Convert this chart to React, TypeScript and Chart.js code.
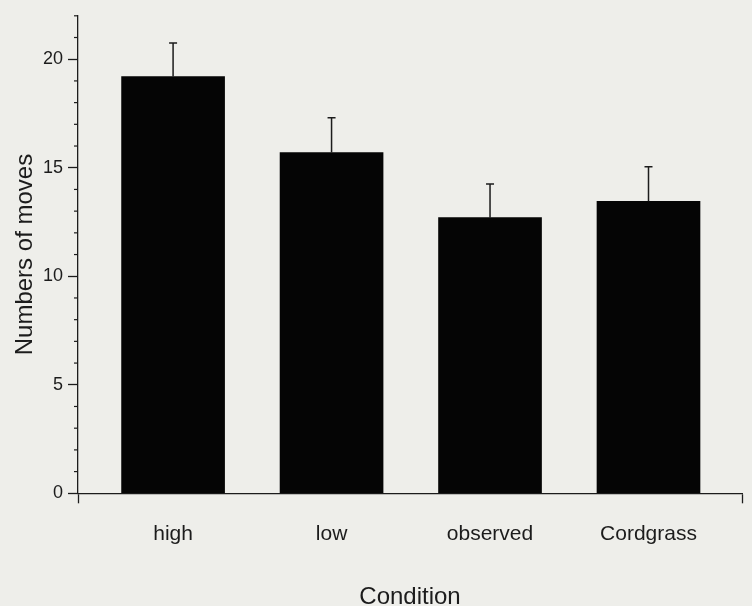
import React, { useEffect, useRef } from "react";
import { Chart, registerables } from "chart.js";

Chart.register(...registerables);

const categories = ["high", "low", "observed", "Cordgrass"];
const meanMoves = [19.2, 15.7, 12.7, 13.45];
const errorMoves = [1.55, 1.6, 1.55, 1.6];
const yMajorTicks = [0, 5, 10, 15, 20];

const INK = "#1c1c1c";
const FONT = "'Liberation Sans', Arial, Helvetica, sans-serif";

const bgPlugin = {
  id: "bg",
  beforeDraw(chart: any) {
    const { ctx, width, height } = chart;
    ctx.save();
    ctx.fillStyle = "#eeeeea";
    ctx.fillRect(0, 0, width, height);
    ctx.restore();
  },
};

const minorTickPlugin = {
  id: "minorTicks",
  afterDraw(chart: any) {
    const y = chart.scales.y;
    const left = chart.chartArea.left;
    const { ctx } = chart;
    ctx.save();
    ctx.strokeStyle = INK;
    ctx.lineWidth = 1.2;
    for (let v = y.min; v <= y.max; v++) {
      if (yMajorTicks.includes(v)) continue;
      const py = y.getPixelForValue(v);
      ctx.beginPath();
      ctx.moveTo(left - 4, py);
      ctx.lineTo(left, py);
      ctx.stroke();
    }
    ctx.restore();
  },
};

const errorBarPlugin = {
  id: "errorBars",
  afterDatasetsDraw(chart: any) {
    const meta = chart.getDatasetMeta(0);
    const y = chart.scales.y;
    const { ctx } = chart;
    ctx.save();
    ctx.strokeStyle = INK;
    ctx.lineWidth = 1.5;
    meta.data.forEach((bar: any, i: number) => {
      const top = y.getPixelForValue(meanMoves[i] + errorMoves[i]);
      ctx.beginPath();
      ctx.moveTo(bar.x, bar.y);
      ctx.lineTo(bar.x, top);
      ctx.moveTo(bar.x - 4, top);
      ctx.lineTo(bar.x + 4, top);
      ctx.stroke();
    });
    ctx.restore();
  },
};

export default function App() {
  const ref = useRef<HTMLCanvasElement | null>(null);

  useEffect(() => {
    if (!ref.current) return;
    const chart = new Chart(ref.current, {
      type: "bar",
      data: {
        datasets: [
          {
            data: categories.map((_, i) => ({ x: i, y: meanMoves[i] })) as any,
            backgroundColor: "#050505",
            borderWidth: 0,
            barThickness: 103,
          },
        ],
      },
      options: {
        animation: false,
        responsive: false,
        maintainAspectRatio: false,
        layout: { padding: { top: 14.7, right: 10, left: 0, bottom: 0 } },
        plugins: { legend: { display: false }, tooltip: { enabled: false } },
        scales: {
          x: {
            type: "linear",
            min: -0.6,
            max: 3.59,
            offset: false,
            afterBuildTicks: (scale: any) => {
              scale.ticks = [scale.min, 0, 1, 2, 3, scale.max].map((v: number) => ({ value: v }));
            },
            afterFit: (scale: any) => {
              scale.height = 606 - 493.3;
            },
            ticks: {
              autoSkip: false,
              maxRotation: 0,
              padding: 8,
              color: INK,
              font: { family: FONT, size: 21, lineHeight: 2.2 },
              callback: (v: any) => (Number.isInteger(v) && categories[v] !== undefined ? categories[v] : ""),
            },
            grid: {
              display: true,
              offset: false,
              drawOnChartArea: false,
              tickLength: 10,
              tickWidth: 1.3,
              tickColor: (ctx: any) =>
                ctx.index === 0 || ctx.index === 5 ? INK : "transparent",
            },
            border: { display: true, color: INK, width: 1.3 },
            title: {
              display: true,
              text: "Condition",
              color: INK,
              font: { family: FONT, size: 24, lineHeight: 0.7 },
              padding: { top: 0, bottom: 0 },
            },
          },
          y: {
            type: "linear",
            min: 0,
            max: 22,
            afterFit: (scale: any) => {
              scale.width = 78;
            },
            ticks: {
              stepSize: 1,
              autoSkip: false,
              padding: 5,
              color: INK,
              font: { family: FONT, size: 18 },
              callback: (v: any) => (yMajorTicks.includes(v) ? String(v) : ""),
            },
            grid: {
              display: true,
              drawOnChartArea: false,
              tickLength: 10,
              tickWidth: 1.3,
              tickColor: (ctx: any) =>
                ctx.tick && yMajorTicks.includes(ctx.tick.value) ? INK : "transparent",
            },
            border: { display: true, color: INK, width: 1.3 },
            title: {
              display: true,
              text: "Numbers of moves",
              color: INK,
              font: { family: FONT, size: 24, lineHeight: 1 },
              padding: { top: 13, bottom: 0 },
            },
          },
        },
      },
      plugins: [bgPlugin, minorTickPlugin, errorBarPlugin],
    });
    return () => chart.destroy();
  }, []);

  return (
    <div style={{ position: "fixed", left: 0, top: 0, width: 752, height: 606, background: "#eeeeea" }}>
      <canvas ref={ref} width={752} height={606} style={{ display: "block", width: 752, height: 606 }} />
    </div>
  );
}
